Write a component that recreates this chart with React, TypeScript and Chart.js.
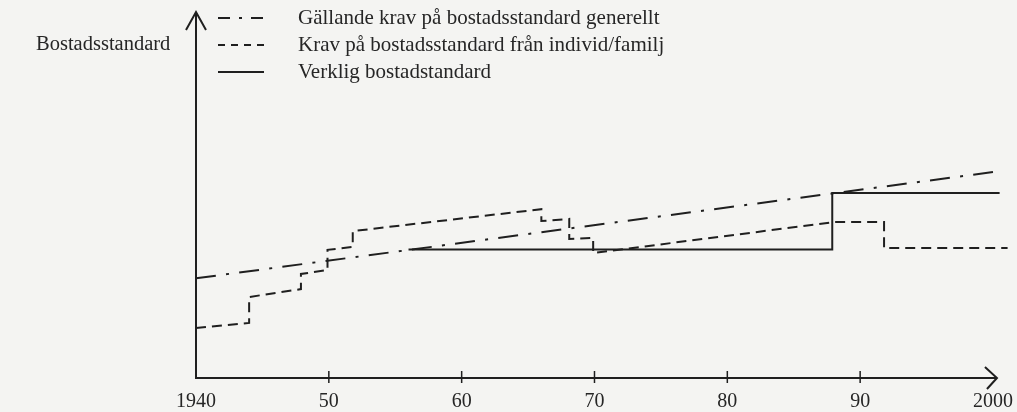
import React, { useEffect, useRef } from 'react';
import { Chart, registerables } from 'chart.js';

Chart.register(...registerables);

// ---- data ----
const TICK_YEARS = [1940, 1950, 1960, 1970, 1980, 1990, 2000];
const TICK_LABELS = ['1940', '50', '60', '70', '80', '90', '2000'];

const SERIES_LABELS = [
  'Gällande krav på bostadsstandard generellt',
  'Krav på bostadsstandard från individ/familj',
  'Verklig bostadstandard',
];
const Y_TITLE = 'Bostadsstandard';

const GENERAL_YEARS = [1940, 2000];
const GENERAL_VALUES = [27.7, 57.2];

const INDIVIDUAL_YEARS = [
  1940, 1944.0, 1944.0, 1947.9, 1947.9, 1949.9, 1949.9, 1951.8, 1951.8,
  1966.0, 1966.0, 1968.1, 1968.1, 1969.9, 1969.9, 1988.0, 1991.8, 1991.8, 2001.1,
];
const INDIVIDUAL_VALUES = [
  13.9, 15.3, 22.5, 24.7, 28.9, 30.0, 35.6, 36.4, 40.8,
  46.9, 43.6, 44.2, 38.6, 38.9, 34.7, 43.3, 43.3, 36.1, 36.1,
];

const ACTUAL_YEARS = [1956.0, 1987.9, 1987.9, 2000.5];
const ACTUAL_VALUES = [35.7, 35.7, 51.4, 51.4];

const DASHES = [[20, 10.3, 3, 10.26], [10, 6], []];

const INK = '#1f1f1f';
const TEXT = '#262626';
const BG = '#f4f4f2';
const FONT = "'Liberation Serif', 'DejaVu Serif', serif";

const toPoints = (xs: number[], ys: number[]) => xs.map((x, i) => ({ x, y: ys[i] }));

const decor = {
  id: 'decor',
  beforeDraw(chart: any) {
    const { ctx, width, height } = chart;
    ctx.save();
    ctx.fillStyle = BG;
    ctx.fillRect(0, 0, width, height);
    ctx.restore();
  },
  afterDraw(chart: any) {
    const { ctx } = chart;
    const xs = chart.scales.x;
    const ys = chart.scales.y;
    const x0 = xs.getPixelForValue(1940);
    const y0 = ys.getPixelForValue(0);
    const xEnd = xs.getPixelForValue(2000.3);
    const yTop = 12;
    ctx.save();
    ctx.strokeStyle = INK;
    ctx.lineWidth = 2;
    ctx.setLineDash([]);
    // axes
    ctx.beginPath();
    ctx.moveTo(x0, yTop);
    ctx.lineTo(x0, y0);
    ctx.lineTo(xEnd, y0);
    ctx.stroke();
    // y arrow head
    ctx.beginPath();
    ctx.moveTo(x0 - 10, yTop + 18);
    ctx.lineTo(x0, yTop);
    ctx.lineTo(x0 + 10, yTop + 18);
    ctx.stroke();
    // x arrow head
    ctx.beginPath();
    ctx.moveTo(xEnd - 12, y0 - 11);
    ctx.lineTo(xEnd, y0);
    ctx.lineTo(xEnd - 10, y0 + 11);
    ctx.stroke();
    // tick marks
    ctx.lineWidth = 1.5;
    TICK_YEARS.slice(1, -1).forEach((yr) => {
      const px = xs.getPixelForValue(yr);
      ctx.beginPath();
      ctx.moveTo(px, y0 - 7);
      ctx.lineTo(px, y0 + 5);
      ctx.stroke();
    });
    // legend
    const rows = [18, 45, 72];
    ctx.font = `21px ${FONT}`;
    ctx.textBaseline = 'middle';
    ctx.textAlign = 'left';
    SERIES_LABELS.forEach((lab, i) => {
      ctx.strokeStyle = INK;
      ctx.lineWidth = 2;
      ctx.setLineDash(i === 0 ? [12, 9, 3, 9] : i === 1 ? [7, 6] : []);
      ctx.beginPath();
      ctx.moveTo(218, rows[i]);
      ctx.lineTo(264, rows[i]);
      ctx.stroke();
      ctx.setLineDash([]);
      ctx.fillStyle = TEXT;
      ctx.fillText(lab, 298, rows[i]);
    });
    ctx.font = `20.5px ${FONT}`;
    ctx.fillText(Y_TITLE, 36, 45);
    ctx.restore();
  },
};

export default function App() {
  const ref = useRef<HTMLCanvasElement | null>(null);
  useEffect(() => {
    if (!ref.current) return;
    const chart = new Chart(ref.current, {
      type: 'line',
      data: {
        datasets: [
          { label: SERIES_LABELS[0], data: toPoints(GENERAL_YEARS, GENERAL_VALUES), borderDash: DASHES[0] },
          { label: SERIES_LABELS[1], data: toPoints(INDIVIDUAL_YEARS, INDIVIDUAL_VALUES), borderDash: DASHES[1] },
          { label: SERIES_LABELS[2], data: toPoints(ACTUAL_YEARS, ACTUAL_VALUES), borderDash: DASHES[2] },
        ].map((d) => ({
          ...d,
          borderColor: INK,
          borderWidth: 2,
          pointRadius: 0,
          tension: 0,
          fill: false,
          clip: 6,
        })) as any,
      },
      options: {
        animation: false,
        responsive: false,
        devicePixelRatio: 1,
        layout: { padding: { left: 196, top: 18, right: 4.1, bottom: 0 } },
        plugins: { legend: { display: false }, tooltip: { enabled: false } },
        events: [],
        scales: {
          x: {
            type: 'linear',
            min: 1940,
            max: 2001.5,
            grid: { display: false, drawTicks: false },
            border: { display: false },
            ticks: {
              padding: 12,
              color: TEXT,
              font: { family: FONT, size: 20 },
              maxRotation: 0,
              autoSkip: false,
              callback: (v: any) => {
                const i = TICK_YEARS.indexOf(Number(v));
                return i >= 0 ? TICK_LABELS[i] : '';
              },
            },
            afterBuildTicks: (s: any) => {
              s.ticks = TICK_YEARS.map((v) => ({ value: v }));
            },
            afterFit: (s: any) => {
              s.height = 34;
              s.paddingLeft = 0;
              s.paddingRight = 0;
            },
          },
          y: { type: 'linear', min: 0, max: 100, display: false },
        },
      },
      plugins: [decor],
    });
    return () => chart.destroy();
  }, []);
  return (
    <div style={{ position: 'fixed', left: 0, top: 0, width: 1017, height: 412, background: BG }}>
      <canvas ref={ref} width={1017} height={412} />
    </div>
  );
}
